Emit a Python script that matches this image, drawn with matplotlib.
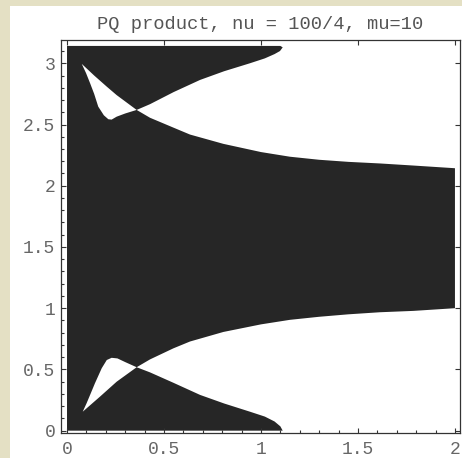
import numpy as np
import matplotlib
matplotlib.use("Agg")
import matplotlib.pyplot as plt
from matplotlib.patches import Rectangle
from matplotlib.ticker import MultipleLocator

# boundary curves (x, theta)
# lower band: bottom edge from the crossing down to the bottom tip
lo_bot_x = [0.359, 0.428, 0.55, 0.686, 0.81, 0.943, 1.02, 1.07, 1.10, 1.112]
lo_bot_y = [0.518, 0.476, 0.39, 0.292, 0.222, 0.155, 0.115, 0.075, 0.035, 0.0]
# lower white region: top edge from the crossing out to x=2
lo_top_x = [0.359, 0.428, 0.548, 0.634, 0.806, 1.0, 1.149, 1.3, 1.45, 1.613, 1.785, 2.0]
lo_top_y = [0.518, 0.582, 0.672, 0.728, 0.806, 0.868, 0.905, 0.93, 0.95, 0.967, 0.978, 1.0]
# upper white region: bottom edge from the crossing out to x=2
up_bot_x = [0.359, 0.428, 0.548, 0.634, 0.806, 1.0, 1.149, 1.3, 1.45, 1.613, 1.785, 2.0]
up_bot_y = [2.619, 2.555, 2.475, 2.418, 2.342, 2.275, 2.237, 2.212, 2.195, 2.182, 2.165, 2.143]
# upper band: top edge from the crossing up to the top tip
up_top_x = [0.359, 0.428, 0.55, 0.686, 0.81, 0.943, 1.02, 1.07, 1.098, 1.112]
up_top_y = [2.619, 2.666, 2.765, 2.864, 2.935, 3.0, 3.04, 3.075, 3.10, 3.13]

# small white wedges near x=0.1..0.36
lo_wedge_x = [0.081, 0.101, 0.119, 0.144, 0.179, 0.205, 0.23, 0.26, 0.30, 0.359, 0.256, 0.17]
lo_wedge_y = [0.155, 0.224, 0.292, 0.387, 0.51, 0.577, 0.595, 0.59, 0.56, 0.518, 0.40, 0.278]
up_wedge_x = [0.076, 0.098, 0.119, 0.14, 0.161, 0.19, 0.213, 0.23, 0.256, 0.30, 0.359, 0.256, 0.205, 0.14]
up_wedge_y = [2.995, 2.92, 2.837, 2.75, 2.646, 2.575, 2.543, 2.54, 2.564, 2.59, 2.619, 2.74, 2.809, 2.9]

title = "PQ product, nu = 100/4, mu=10"
top = np.pi

fig = plt.figure(figsize=(4.62, 4.58), dpi=100)
fig.patch.set_facecolor("#e4e0c4")
# white sheet behind the plot
fig.patches.append(Rectangle((10 / 462, 0), 452 / 462, 452 / 458, transform=fig.transFigure,
                             facecolor="white", edgecolor="none", zorder=-5))

ax = fig.add_axes([61 / 462, 1 - 433 / 458, 399 / 462, 393 / 458])
ax.set_facecolor("white")

# outline of the black region
px = ([0, 1.10] + lo_bot_x[::-1] + lo_top_x[1:] + up_bot_x[::-1][:-1] + up_top_x + [1.10, 0])
py = ([0, 0] + lo_bot_y[::-1] + lo_top_y[1:] + up_bot_y[::-1][:-1] + up_top_y + [top, top])
ax.fill(px, py, color="#262626", lw=0)
ax.fill(lo_wedge_x, lo_wedge_y, color="white", lw=0)
ax.fill(up_wedge_x, up_wedge_y, color="white", lw=0)

ax.set_xlim(-0.031, 2.026)
ax.set_ylim(-0.019, 3.19)

ax.xaxis.set_major_locator(MultipleLocator(0.5))
ax.xaxis.set_minor_locator(MultipleLocator(0.1))
ax.yaxis.set_major_locator(MultipleLocator(0.5))
ax.yaxis.set_minor_locator(MultipleLocator(0.1))

fmt = lambda v, p: ("%g" % v)
ax.xaxis.set_major_formatter(fmt)
ax.yaxis.set_major_formatter(fmt)

ax.tick_params(which="both", direction="in", top=True, right=True, color="#333333", width=0.8,
               labelsize=13, labelcolor="#666666")
ax.tick_params(which="major", length=3.5)
ax.tick_params(which="minor", length=2, top=False, right=False)
ax.tick_params(axis="x", pad=6)
ax.tick_params(axis="y", pad=4)
for lab in ax.get_xticklabels() + ax.get_yticklabels():
    lab.set_family("Liberation Mono")

for s in ax.spines.values():
    s.set_color("#333333")
    s.set_linewidth(0.9)

ax.set_title(title, family="Liberation Mono", fontsize=13.5, color="#555555", pad=8)

fig.savefig("out.png", dpi=100, facecolor=fig.get_facecolor())
